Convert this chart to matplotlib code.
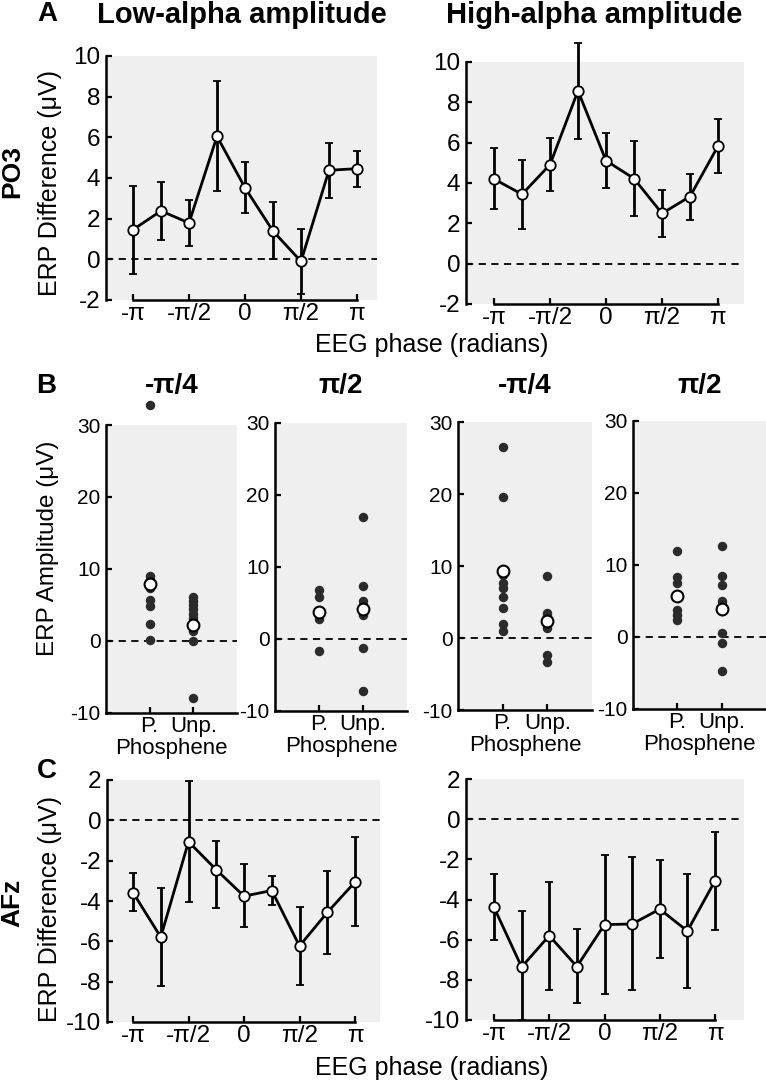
import numpy as np
import matplotlib
matplotlib.use("Agg")
import matplotlib.pyplot as plt

plt.rcParams['font.family'] = ['Liberation Sans', 'DejaVu Sans']

PI = np.pi
# ---------------- data ----------------
phase = [-PI, -3*PI/4, -PI/2, -PI/4, 0, PI/4, PI/2, 3*PI/4, PI]
phase_ticks = [-PI, -PI/2, 0, PI/2, PI]
phase_ticklabels = ['-π', '-π/2', '0', 'π/2', 'π']

# Panel A (PO3)
a_low_mean = [1.46, 2.38, 1.79, 6.05, 3.52, 1.39, -0.10, 4.38, 4.46]
a_low_top = [3.59, 3.80, 2.93, 8.75, 4.80, 2.84, 1.51, 5.72, 5.33]
a_low_bot = [-0.70, 0.97, 0.64, 3.36, 2.30, 0.00, -1.72, 3.03, 3.56]
a_high_mean = [4.20, 3.44, 4.91, 8.57, 5.11, 4.22, 2.49, 3.33, 5.83]
a_high_top = [5.72, 5.13, 6.23, 10.94, 6.49, 6.08, 3.63, 4.47, 7.19]
a_high_bot = [2.70, 1.73, 3.61, 6.16, 3.74, 2.36, 1.34, 2.19, 4.50]

# Panel C (AFz)
c_low_mean = [-3.58, -5.79, -1.06, -2.45, -3.76, -3.48, -6.23, -4.57, -3.06]
c_low_top = [-2.62, -3.34, 1.95, -1.04, -2.19, -2.75, -4.30, -2.52, -0.83]
c_low_bot = [-4.50, -8.23, -4.06, -4.35, -5.31, -4.21, -8.15, -6.62, -5.25]
c_high_mean = [-4.39, -7.36, -5.80, -7.34, -5.25, -5.22, -4.48, -5.57, -3.07]
c_high_top = [-2.72, -4.59, -3.12, -5.47, -1.77, -1.89, -2.04, -2.72, -0.65]
c_high_bot = [-6.03, -10.00, -8.49, -9.15, -8.69, -8.52, -6.91, -8.39, -5.50]

# Panel B (individual subjects)
b_titles = ['-π/4', 'π/2', '-π/4', 'π/2']
b_cats = ['P.', 'Unp.']
b1_p = [32.8, 9.0, 8.5, 7.3, 5.7, 4.9, 2.3, 0.2]
b1_u = [6.1, 5.5, 5.0, 4.4, 3.8, 3.2, 2.6, 1.4, 0.0, -7.9]
b1_mean = [7.9, 2.2]
b2_p = [6.8, 5.9, 3.3, 2.8, -1.7]
b2_u = [17.0, 7.4, 5.3, 4.6, 3.6, 3.3, -1.2, -7.2]
b2_mean = [3.8, 4.1]
b3_p = [26.5, 19.6, 8.7, 7.7, 6.9, 5.7, 4.1, 2.0, 1.0]
b3_u = [8.6, 3.5, 3.1, 2.6, 1.8, 1.4, -2.3, -3.3]
b3_mean = [9.3, 2.3]
b4_p = [12.0, 8.4, 7.5, 3.8, 3.1, 2.3]
b4_u = [12.6, 8.5, 7.2, 5.0, 4.4, 3.6, 0.5, -0.8, -4.7]
b4_mean = [5.7, 3.9]

# ---------------- figure ----------------
W, H = 766, 1080
fig = plt.figure(figsize=(W/100, H/100), dpi=100)
BG = '#efefef'


def add_ax(x0, y0, x1, y1):
    """pixel box (left, top, right, bottom) -> axes"""
    return fig.add_axes([x0/W, 1 - y1/H, (x1-x0)/W, (y1-y0)/H])


def ftext(x, y, s, **kw):
    fig.text(x/W, 1 - y/H, s, **kw)


def style(ax, tick_fs):
    ax.set_facecolor(BG)
    for s in ['top', 'right']:
        ax.spines[s].set_visible(False)
    for s in ['left', 'bottom']:
        ax.spines[s].set_linewidth(1.8)
    ax.tick_params(direction='in', length=4, width=1.6, labelsize=tick_fs,
                   pad=4)
    ax.tick_params(axis='x', pad=2)


def phase_panel(box, mean, top, bot, ylim, yticks, x_left_px, x_right_px):
    ax = add_ax(*box)
    style(ax, 17.5)
    ppr = (x_right_px - x_left_px) / (2*PI)
    ax.set_xlim(-PI - (x_left_px - box[0]) / ppr, PI + (box[2] - x_right_px) / ppr)
    ax.set_ylim(*ylim)
    ax.axhline(0, color='black', ls=(0, (4, 3)), lw=1.3, zorder=1)
    m = np.array(mean)
    yerr = [m - np.array(bot), np.array(top) - m]
    cont = ax.errorbar(phase, m, yerr=yerr, color='black', lw=2.0,
                       elinewidth=2.0, capsize=3, capthick=2.0, marker='o',
                       ms=7.5, mfc='white', mec='black', mew=1.3, zorder=3)
    for art in list(cont.lines[1]) + list(cont.lines[2]):
        art.set_clip_on(False)
    ax.set_xticks(phase_ticks)
    ax.set_xticklabels(phase_ticklabels)
    ax.set_yticks(yticks)
    ax.set_yticklabels([str(t) for t in yticks])
    ax.spines['bottom'].set_bounds(-PI, PI)
    return ax


# Panel A
axA1 = phase_panel((106, 56, 377, 300), a_low_mean, a_low_top, a_low_bot,
                   (-2, 10), list(range(-2, 11, 2)), 133, 357)
axA2 = phase_panel((466, 62, 744, 304), a_high_mean, a_high_top, a_high_bot,
                   (-2, 10), list(range(-2, 11, 2)), 494, 718)

# Panel C
axC1 = phase_panel((107, 780, 380, 1022), c_low_mean, c_low_top, c_low_bot,
                   (-10, 2), list(range(-10, 3, 2)), 133, 355)
axC2 = phase_panel((466, 779, 744, 1020), c_high_mean, c_high_top, c_high_bot,
                   (-10, 2), list(range(-10, 3, 2)), 494, 715)

# Panel B
b_boxes = [(106, 425, 237, 713), (275, 423, 407, 711),
           (458, 422, 592, 710), (633, 421, 766, 709)]
b_p = [b1_p, b2_p, b3_p, b4_p]
b_u = [b1_u, b2_u, b3_u, b4_u]
b_mean = [b1_mean, b2_mean, b3_mean, b4_mean]
for i, box in enumerate(b_boxes):
    ax = add_ax(*box)
    style(ax, 15)
    ax.set_xlim(0, 3)
    ax.set_ylim(-10, 30)
    ax.axhline(0, color='black', ls=(0, (4, 3)), lw=1.3, zorder=1)
    ax.plot([1]*len(b_p[i]), b_p[i], 'o', color='#2b2b2b', ms=5.8,
            clip_on=False, zorder=3)
    ax.plot([2]*len(b_u[i]), b_u[i], 'o', color='#2b2b2b', ms=5.8,
            clip_on=False, zorder=3)
    ax.plot([1, 2], b_mean[i], 'o', mfc='white', mec='black', mew=1.5,
            ms=8.5, ls='none', zorder=4)
    ax.set_xticks([1, 2])
    ax.set_xticklabels(b_cats, fontsize=16)
    ax.set_yticks([-10, 0, 10, 20, 30])
    ax.set_yticklabels(['-10', '0', '10', '20', '30'])
    ax.set_xlabel('Phosphene', fontsize=16, labelpad=1)
    cx = (box[0] + box[2]) / 2
    ftext(cx, 386, b_titles[i], fontsize=20, fontweight='bold',
          ha='center', va='center')

# Titles, labels, panel letters
ftext(242, 15, 'Low-alpha amplitude', fontsize=21, fontweight='bold',
      ha='center', va='center')
ftext(594, 15, 'High-alpha amplitude', fontsize=21, fontweight='bold',
      ha='center', va='center')
ftext(47, 14, 'A', fontsize=20, fontweight='bold', ha='center', va='center')
ftext(46, 386, 'B', fontsize=20, fontweight='bold', ha='center', va='center')
ftext(47, 771, 'C', fontsize=20, fontweight='bold', ha='center', va='center')
ftext(12, 172, 'PO3', fontsize=19, fontweight='bold', rotation=90,
      ha='center', va='center')
ftext(12, 903, 'AFz', fontsize=19, fontweight='bold', rotation=90,
      ha='center', va='center')
ftext(50, 183, 'ERP Difference (μV)', fontsize=18, rotation=90,
      ha='center', va='center')
ftext(50, 909, 'ERP Difference (μV)', fontsize=18, rotation=90,
      ha='center', va='center')
ftext(48, 548, 'ERP Amplitude (μV)', fontsize=17.5, rotation=90,
      ha='center', va='center')
ftext(432, 345, 'EEG phase (radians)', fontsize=18, ha='center', va='center')
ftext(432, 1068, 'EEG phase (radians)', fontsize=18, ha='center', va='center')

fig.savefig('out.png', dpi=100, facecolor='white')
